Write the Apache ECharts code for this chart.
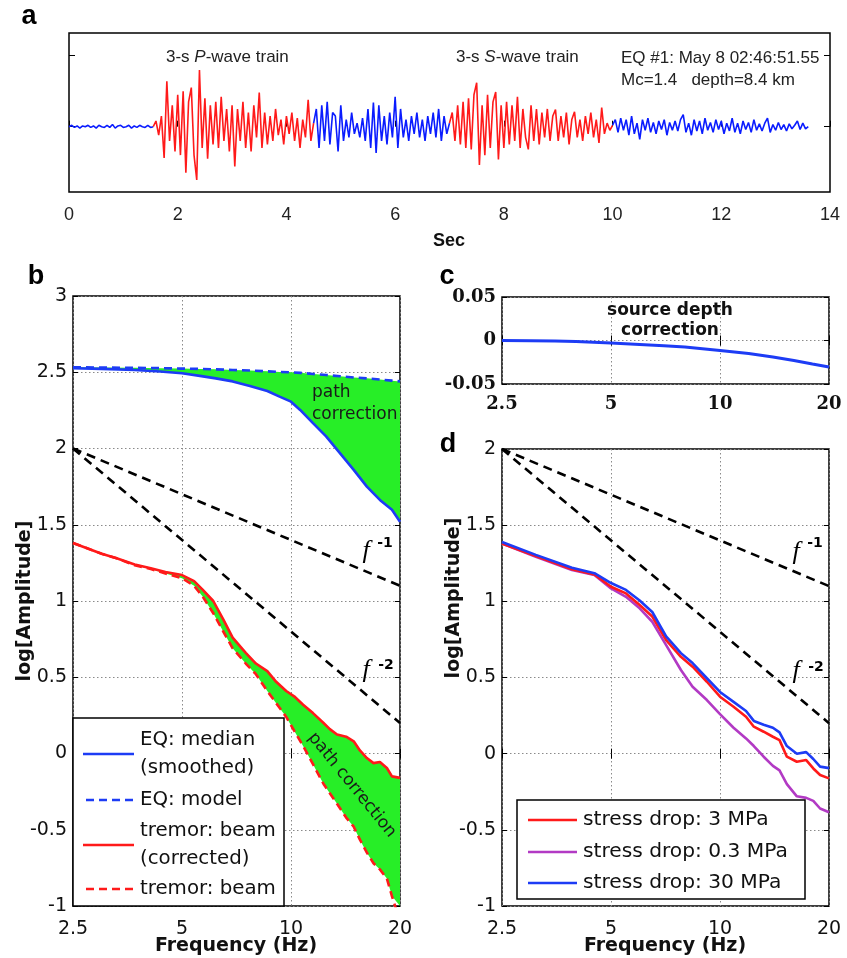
<!DOCTYPE html>
<html><head><meta charset="utf-8">
<script src="https://cdn.jsdelivr.net/npm/echarts@6/dist/echarts.min.js"></script>
<style>html,body{margin:0;padding:0;background:#fff}#c{width:847px;height:958px}</style>
</head><body><div id="c"></div>
<script>
// ---------- DATA ----------
// Panel a: seismogram (sample step 0.05 s), amplitude in tick units
const seisStep = 0.05;
const seisStarts = [0, 1.55, 4.5, 7.0, 10.0];
const seisNoise = [0,0.02,-0.01,0.01,-0.02,0.01,0,0.02,-0.01,0.01,-0.02,0.02,0,-0.01,0.02,-0.01,0.03,-0.02,0.01,0.02,-0.01,0,0.02,-0.02,0.01,-0.01,0.02,0,-0.01,0.02,-0.01,0];
const seisP = [0,0.08,-0.12,0.15,-0.44,0.64,-0.2,0.3,-0.35,0.45,-0.4,0.5,-0.65,0.35,0.55,-0.4,-0.75,0.8,-0.3,0.4,-0.45,0.3,-0.25,0.35,-0.3,0.42,-0.2,0.25,-0.35,0.3,-0.56,0.25,-0.2,0.35,-0.3,0.2,-0.35,0.3,-0.15,0.48,-0.3,0.2,-0.25,0.15,-0.2,0.25,-0.12,0.1,-0.25,0.15,-0.1,0.2,-0.2,0.12,-0.3,0.1,-0.15,0.38,-0.2,0.05];
const seisCoda1 = [0.05,0.25,-0.3,0.3,-0.2,0.35,-0.25,0.2,0.15,-0.35,0.3,-0.2,0.1,-0.15,0.2,-0.1,0.05,-0.15,0.12,-0.2,0.25,-0.3,0.34,-0.37,0.3,-0.2,0.15,-0.25,0.2,-0.15,0.42,-0.3,0.25,-0.15,0.1,-0.2,0.15,-0.1,0.2,-0.15,0.1,-0.2,0.15,-0.1,0.2,-0.15,0.25,-0.2,0.15,-0.1,0.05];
const seisS = [0.05,0.2,-0.2,0.3,-0.25,0.35,-0.3,0.4,-0.32,0.45,0.62,-0.54,0.3,-0.4,0.45,-0.3,0.35,0.49,-0.46,0.3,-0.3,0.35,-0.25,0.3,-0.2,0.42,-0.3,0.25,-0.15,-0.32,0.3,-0.2,0.25,-0.25,0.2,-0.15,0.25,-0.2,0.15,0.24,-0.2,0.15,-0.15,0.2,-0.25,0.1,0.21,-0.15,0.1,-0.2,0.15,-0.1,0.2,-0.15,0.1,-0.23,0.27,-0.1,0.05,-0.05,0.02];
const seisCoda2 = [0.02,0.1,-0.08,0.12,-0.05,0.1,-0.12,0.15,-0.1,0.05,-0.18,0.1,-0.05,0.12,-0.08,0.06,-0.1,0.08,-0.04,0.1,-0.12,0.06,-0.05,0.08,-0.06,0.1,0.17,-0.08,0.05,-0.12,0.1,-0.06,0.08,-0.1,0.12,-0.05,0.06,-0.08,0.1,-0.04,0.08,-0.1,0.05,-0.06,0.12,-0.08,0.05,-0.1,0.08,-0.04,0.06,-0.08,0.1,-0.05,0.04,-0.06,0.05,0.12,-0.08,0.03,-0.05,0.06,-0.04,0.03,-0.06,0.04,-0.03,0.02,0.08,-0.04,0.05,-0.03,0];
const secTicks = [0,2,4,6,8,10,12,14];

// Panels b, c, d: frequency axis ticks
const freqTicks = [2.5, 5, 10, 20];

// Panel b: earthquake spectra
const eqFreq   = [2.5,3,3.7,4.35,5,5.6,6.2,6.9,7.7,8.6,9.3,10,10.6,11.5,12.5,13.65,14.9,16.2,17.6,19,20];
const eqMedian = [2.526,2.522,2.515,2.505,2.493,2.476,2.46,2.44,2.41,2.377,2.34,2.307,2.253,2.166,2.08,1.97,1.86,1.75,1.663,1.598,1.52];
const eqModel  = [2.533,2.531,2.529,2.527,2.524,2.522,2.519,2.515,2.511,2.506,2.502,2.5,2.496,2.489,2.482,2.474,2.466,2.46,2.452,2.445,2.44];

// Panel b: tremor spectra
const tremorFreq      = [2.5,3,3.3,3.7,4.1,4.5,5,5.4,5.7,6.1,6.5,6.9,7.5,8,8.6,9.1,9.7,10.2,10.8,11.5,12.3,12.8,13.4,14.2,14.9,15.5,16.2,16.9,17.6,18.4,19,20];
const tremorCorrected = [1.38,1.31,1.28,1.24,1.215,1.19,1.17,1.13,1.075,1.0,0.88,0.76,0.66,0.59,0.54,0.47,0.41,0.375,0.32,0.265,0.2,0.16,0.125,0.11,0.08,0.02,-0.03,-0.063,-0.056,-0.095,-0.15,-0.16];
const tremorBeam      = [1.38,1.31,1.28,1.235,1.21,1.18,1.15,1.1,1.03,0.92,0.8,0.69,0.59,0.52,0.41,0.33,0.24,0.15,0.05,-0.07,-0.2,-0.26,-0.33,-0.42,-0.48,-0.565,-0.65,-0.72,-0.76,-0.82,-0.935,-1.1];

// Reference slopes f^-1 and f^-2 (panels b and d)
const slopeFreq = [2.5, 20];
const slopeF1 = [2.0, 1.1];
const slopeF2 = [2.0, 0.2];

// Panel c: source depth correction
const depthFreq = [2.5,3,3.5,4,5,6,7,8,10,12,14,16,18,20];
const depthCorr = [0.0,-0.0002,-0.0006,-0.0012,-0.003,-0.0045,-0.006,-0.0075,-0.0115,-0.015,-0.019,-0.023,-0.027,-0.0305];

// Panel d: stress drop variants
const stressFreq = [2.5,3.1,3.9,4.5,5,5.5,6,6.5,7.1,7.8,8.4,9.2,10,10.9,11.8,12.4,13.2,14,14.6,15.3,16.3,17.3,18.1,18.9,20];
const stress3  = [1.38,1.297,1.21,1.177,1.096,1.052,0.976,0.9,0.746,0.636,0.571,0.472,0.374,0.308,0.242,0.177,0.144,0.111,0.089,-0.02,-0.053,-0.042,-0.097,-0.14,-0.162];
const stress03 = [1.38,1.293,1.206,1.173,1.085,1.03,0.954,0.866,0.713,0.549,0.439,0.352,0.26,0.17,0.1,0.05,-0.02,-0.08,-0.11,-0.2,-0.28,-0.29,-0.31,-0.36,-0.385];
const stress30 = [1.39,1.305,1.22,1.185,1.12,1.075,1.005,0.93,0.77,0.66,0.595,0.495,0.405,0.34,0.28,0.215,0.19,0.17,0.14,0.05,0.0,0.01,-0.035,-0.085,-0.095];

// ---------- HELPERS ----------
const zip = (xs, ys) => xs.map((x, i) => [x, ys[i]]);
const seisData = (start, arr) => arr.map((v, i) => [Math.round((start + i * seisStep) * 1000) / 1000, v]);

const BLUE = '#1d3cf5', RED = '#ff1a1a', GREEN = '#27ee27', PURPLE = '#b23ac4', SEIS_BLUE = '#0a1cff';
const SANS = 'DejaVu Sans', LSANS = 'Liberation Sans';
const TICK = {show: true, inside: true, length: 5, lineStyle: {color: '#000', width: 1}};
const DOT = {show: true, lineStyle: {color: '#8a8a8a', type: [1.5, 2.5], width: 1}};

function logX(grid, pos, labels, labelFont) {
  return {
    type: 'log', logBase: 2, min: 2.5, max: 20, gridIndex: grid, position: pos,
    axisLine: {show: false},
    axisTick: Object.assign({}, TICK, {customValues: freqTicks}),
    axisLabel: labels ? Object.assign({customValues: freqTicks, color: '#111', margin: 14,
      formatter: v => String(v)}, labelFont) : {show: false, customValues: freqTicks},
    splitLine: labels ? DOT : {show: false},
    minorTick: {show: false}, minorSplitLine: {show: false}
  };
}
function valY(grid, pos, min, max, interval, labels, labelFont) {
  return {
    type: 'value', gridIndex: grid, position: pos, min: min, max: max, interval: interval,
    axisLine: {show: false},
    axisTick: TICK,
    axisLabel: labels ? Object.assign({color: '#111', margin: 6}, labelFont) : {show: false},
    splitLine: labels ? DOT : {show: false}
  };
}
const lbl19 = {fontFamily: SANS, fontSize: 19};
const serifLbl = {fontFamily: 'DejaVu Serif', fontWeight: 'bold', fontSize: 18};

const line = (name, xi, yi, data, color, width, type, z) => ({
  name, type: 'line', xAxisIndex: xi, yAxisIndex: yi, data, showSymbol: false, symbol: 'none',
  lineStyle: {color, width, type: type || 'solid'}, z: z || 3, silent: true
});
// filled band between two curves, drawn through the axis scales (api.coord)
const band = (name, xi, yi, freq, lower, upper) => ({
  name, type: 'custom', xAxisIndex: xi, yAxisIndex: yi, silent: true, z: 2,
  data: freq.map((f, i) => [f, lower[i], upper[i]]),
  encode: {x: 0, y: [1, 2]},
  renderItem: (params, api) => {
    if (params.dataIndex !== 0) return null;
    const pts = [];
    for (let i = 0; i < freq.length; i++) pts.push(api.coord([freq[i], upper[i]]));
    for (let i = freq.length - 1; i >= 0; i--) pts.push(api.coord([freq[i], lower[i]]));
    const cs = params.coordSys;
    return {type: 'polygon',
      shape: {points: echarts.graphic.clipPointsByRect(pts, {x: cs.x, y: cs.y, width: cs.width, height: cs.height})},
      style: {fill: GREEN}};
  }
});

// ---------- SERIES ----------
const series = [];
// panel a
const segs = [seisNoise, seisP, seisCoda1, seisS, seisCoda2];
const segColors = [SEIS_BLUE, RED, SEIS_BLUE, RED, SEIS_BLUE];
segs.forEach((s, i) => series.push(line('seis' + i, 0, 0, seisData(seisStarts[i], s), segColors[i], 1.6)));

// panel b
series.push(band('EQ path correction', 1, 2, eqFreq, eqMedian, eqModel));
series.push(band('tremor path correction', 1, 2, tremorFreq, tremorBeam, tremorCorrected));
series.push(line('EQ median', 1, 2, zip(eqFreq, eqMedian), BLUE, 2.6, 'solid', 4));
series.push(line('EQ model', 1, 2, zip(eqFreq, eqModel), BLUE, 2.6, [8, 5], 5));
series.push(line('tremor corrected', 1, 2, zip(tremorFreq, tremorCorrected), RED, 2.6, 'solid', 4));
series.push(line('tremor beam', 1, 2, zip(tremorFreq, tremorBeam), RED, 2.6, [8, 5], 5));
series.push(line('f1b', 1, 2, zip(slopeFreq, slopeF1), '#000', 2.6, [9, 6], 3));
series.push(line('f2b', 1, 2, zip(slopeFreq, slopeF2), '#000', 2.6, [9, 6], 3));
// panel c
series.push(line('depth', 3, 4, zip(depthFreq, depthCorr), BLUE, 3, 'solid', 3));
// panel d
series.push(line('f1d', 5, 6, zip(slopeFreq, slopeF1), '#000', 2.6, [9, 6], 3));
series.push(line('f2d', 5, 6, zip(slopeFreq, slopeF2), '#000', 2.6, [9, 6], 3));
series.push(line('s03', 5, 6, zip(stressFreq, stress03), PURPLE, 2.6, 'solid', 3));
series.push(line('s3', 5, 6, zip(stressFreq, stress3), RED, 2.6, 'solid', 4));
series.push(line('s30', 5, 6, zip(stressFreq, stress30), BLUE, 2.6, 'solid', 5));

// ---------- GRAPHIC (labels, legends) ----------
const G = [];
const txt = (x, y, text, font, extra) => G.push(Object.assign({type: 'text', x, y, z: 100,
  style: Object.assign({text, fill: '#111', align: 'center', verticalAlign: 'middle'}, font)}, extra || {}));
const panelFont = {fontFamily: LSANS, fontWeight: 'bold', fontSize: 27, fill: '#000'};
txt(29, 17, 'a', panelFont); txt(36, 277, 'b', panelFont); txt(447, 277, 'c', panelFont); txt(448, 445, 'd', panelFont);

const aFont = {fontFamily: LSANS, fontSize: 17, align: 'left', fill: '#222'};
const aRich = {n: {fontFamily: LSANS, fontSize: 17, fill: '#222'}, i: {fontFamily: LSANS, fontSize: 17, fontStyle: 'italic', fill: '#222'}};
G.push({type: 'text', x: 166, y: 57, z: 100, style: {text: '{n|3-s }{i|P}{n|-wave train}', align: 'left', verticalAlign: 'middle', rich: aRich}});
G.push({type: 'text', x: 456, y: 57, z: 100, style: {text: '{n|3-s }{i|S}{n|-wave train}', align: 'left', verticalAlign: 'middle', rich: aRich}});
txt(621, 58, 'EQ #1: May 8 02:46:51.55', aFont);
txt(621, 80, 'Mc=1.4   depth=8.4 km', aFont);
txt(449, 241, 'Sec', {fontFamily: LSANS, fontWeight: 'bold', fontSize: 18, fill: '#111'});

const nameFont = {fontFamily: SANS, fontWeight: 'bold', fontSize: 19, fill: '#111'};
txt(25, 601, 'log[Amplitude]', nameFont, {rotation: Math.PI / 2});
txt(454, 598, 'log[Amplitude]', nameFont, {rotation: Math.PI / 2});
txt(236, 946, 'Frequency (Hz)', nameFont);
txt(665, 946, 'Frequency (Hz)', nameFont);

const pcFont = {fontFamily: SANS, fontSize: 17, fill: '#1a1a1a'};
txt(312, 393, 'path', Object.assign({}, pcFont, {align: 'left'}));
txt(312, 415, 'correction', Object.assign({}, pcFont, {align: 'left'}));
txt(352, 785, 'path correction', pcFont, {rotation: -0.89});

const sdFont = {fontFamily: SANS, fontWeight: 'bold', fontSize: 17, fill: '#111'};
txt(670, 311, 'source depth', sdFont);
txt(670, 331, 'correction', sdFont);

const fFont = {fontFamily: 'Liberation Serif', fontStyle: 'italic', fontSize: 26, fill: '#000'};
const supFont = {fontFamily: SANS, fontWeight: 'bold', fontSize: 14, fill: '#000'};
txt(366, 551, 'f', fFont); txt(385, 543, '-1', supFont);
txt(366, 670, 'f', fFont); txt(386, 665, '-2', supFont);
txt(796, 552, 'f', fFont); txt(815, 543, '-1', supFont);
txt(796, 671, 'f', fFont); txt(816, 667, '-2', supFont);

// legend b
G.push({type: 'rect', z: 100, shape: {x: 73, y: 718, width: 211, height: 188}, style: {fill: '#fff', stroke: '#000', lineWidth: 1.5}});
const legLine = (x1, x2, y, color, dash) => G.push({type: 'line', z: 101, shape: {x1, y1: y, x2, y2: y},
  style: {stroke: color, lineWidth: 2.6, lineDash: dash || null}});
const legFont = {fontFamily: SANS, fontSize: 19.8, fill: '#111', align: 'left'};
legLine(83, 134, 754, BLUE); legLine(86, 134, 800, BLUE, [8, 5]);
legLine(83, 134, 845, RED); legLine(86, 134, 889, RED, [8, 5]);
txt(140, 740, 'EQ: median', legFont); txt(140, 768, '(smoothed)', legFont);
txt(140, 800, 'EQ: model', legFont);
txt(140, 831, 'tremor: beam', legFont); txt(140, 859, '(corrected)', legFont);
txt(140, 889, 'tremor: beam', legFont);
// legend d
G.push({type: 'rect', z: 100, shape: {x: 517, y: 800, width: 288, height: 99}, style: {fill: '#fff', stroke: '#000', lineWidth: 1.5}});
const legFontD = {fontFamily: SANS, fontSize: 20.2, fill: '#111', align: 'left'};
legLine(528, 577, 820, RED); legLine(528, 577, 852, PURPLE); legLine(528, 577, 883, BLUE);
txt(583, 820, 'stress drop: 3 MPa', legFontD);
txt(583, 852, 'stress drop: 0.3 MPa', legFontD);
txt(583, 883, 'stress drop: 30 MPa', legFontD);

// ---------- OPTION ----------
const gridBase = {show: true, borderColor: '#000', borderWidth: 1.5, backgroundColor: 'transparent', containLabel: false};
const option = {
  animation: false,
  backgroundColor: '#fff',
  grid: [
    Object.assign({left: 69, top: 33, width: 761, height: 159}, gridBase),
    Object.assign({left: 73, top: 296, width: 327, height: 610}, gridBase),
    Object.assign({left: 502, top: 297, width: 327, height: 87}, gridBase),
    Object.assign({left: 502, top: 449, width: 327, height: 457}, gridBase)
  ],
  xAxis: [
    {type: 'value', gridIndex: 0, min: 0, max: 14, interval: 2, axisLine: {show: false},
     axisTick: Object.assign({}, TICK, {length: 6}), splitLine: {show: false},
     axisLabel: {fontFamily: LSANS, fontSize: 18, color: '#222', margin: 14}},
    logX(1, 'bottom', true, lbl19),
    logX(1, 'top', false),
    logX(2, 'bottom', true, Object.assign({}, serifLbl, {margin: 11})),
    logX(2, 'top', false),
    logX(3, 'bottom', true, lbl19),
    logX(3, 'top', false)
  ],
  yAxis: [
    {type: 'value', gridIndex: 0, position: 'left', min: -0.92, max: 1.32, axisLine: {show: false},
     axisTick: Object.assign({}, TICK, {length: 6, customValues: [0, 1]}), axisLabel: {show: false}, splitLine: {show: false}},
    {type: 'value', gridIndex: 0, position: 'right', min: -0.92, max: 1.32, axisLine: {show: false},
     axisTick: Object.assign({}, TICK, {length: 6, customValues: [0, 1]}), axisLabel: {show: false}, splitLine: {show: false}},
    valY(1, 'left', -1, 3, 0.5, true, lbl19),
    valY(1, 'right', -1, 3, 0.5, false),
    valY(2, 'left', -0.05, 0.05, 0.05, true, serifLbl),
    valY(2, 'right', -0.05, 0.05, 0.05, false),
    valY(3, 'left', -1, 2, 0.5, true, lbl19),
    valY(3, 'right', -1, 2, 0.5, false)
  ],
  series: series,
  graphic: {elements: G}
};
const chart = echarts.init(document.getElementById('c'), null, {renderer: 'canvas'});
chart.setOption(option);
</script>
</body></html>
